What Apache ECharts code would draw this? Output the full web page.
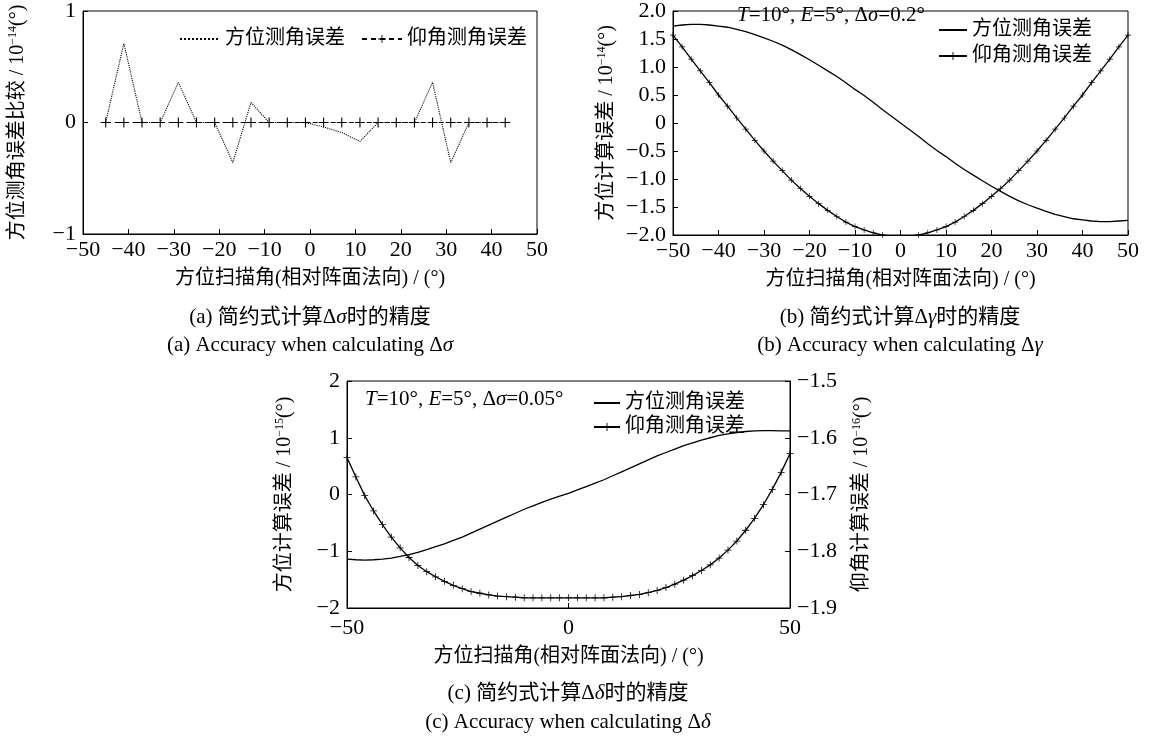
<!DOCTYPE html>
<html><head><meta charset="utf-8">
<script src="https://cdn.jsdelivr.net/npm/echarts@6/dist/echarts.min.js"></script>
<style>html,body{margin:0;padding:0;background:#fff}#c{width:1154px;height:743px}</style>
</head><body><div id="c"></div><script>
// ---------- data ----------
const xA = [-45,-41,-37,-33,-29,-25,-21,-17,-13,-9,-5,-1,3,7,11,15,19,23,27,31,35,39,43];
const azA = [0,0.71,0,0,0.36,0,0,-0.36,0.18,0,0,0,-0.04,-0.09,-0.17,0,0,0,0.36,-0.36,0,0,0];
const elA = [0,0,0,0,0,0,0,0,0,0,0,0,0,0,0,0,0,0,0,0,0,0,0];

const xB = [-50,-48,-46,-44,-42,-40,-38,-36,-34,-32,-30,-28,-26,-24,-22,-20,-18,-16,-14,-12,-10,-8,-6,-4,-2,0,
            2,4,6,8,10,12,14,16,18,20,22,24,26,28,30,32,34,36,38,40,42,44,46,48,50];
const azB = [1.73,1.75,1.76,1.76,1.75,1.73,1.71,1.67,1.63,1.58,1.52,1.46,1.39,1.31,1.22,1.13,1.03,0.93,0.83,0.72,0.60,0.49,0.37,0.24,0.12,0,
             -0.12,-0.24,-0.37,-0.49,-0.60,-0.72,-0.83,-0.93,-1.03,-1.13,-1.22,-1.31,-1.39,-1.46,-1.52,-1.58,-1.63,-1.67,-1.71,-1.73,-1.75,-1.76,-1.76,-1.75,-1.74];
const elB = [1.57,1.36,1.14,0.93,0.72,0.50,0.30,0.09,-0.11,-0.31,-0.50,-0.68,-0.85,-1.02,-1.17,-1.31,-1.44,-1.56,-1.67,-1.77,-1.85,-1.91,-1.96,-2.00,-2.02,-2.03,
             -2.02,-2.00,-1.96,-1.91,-1.85,-1.77,-1.67,-1.56,-1.44,-1.31,-1.17,-1.02,-0.85,-0.68,-0.50,-0.31,-0.11,0.09,0.30,0.50,0.72,0.93,1.14,1.36,1.57];

const xC = [-50,-48,-46,-44,-42,-40,-38,-36,-34,-32,-30,-28,-26,-24,-22,-20,-18,-16,-14,-12,-10,-8,-6,-4,-2,0,
            2,4,6,8,10,12,14,16,18,20,22,24,26,28,30,32,34,36,38,40,42,44,46,48,50];
const azC = [-1.14,-1.15,-1.155,-1.15,-1.14,-1.12,-1.09,-1.06,-1.02,-0.97,-0.92,-0.87,-0.81,-0.75,-0.68,-0.61,-0.54,-0.47,-0.40,-0.33,-0.26,-0.20,-0.14,-0.08,-0.03,0.02,
             0.08,0.14,0.20,0.26,0.33,0.40,0.47,0.54,0.61,0.68,0.74,0.80,0.86,0.91,0.96,1.00,1.04,1.07,1.09,1.11,1.12,1.125,1.125,1.12,1.12];
const elC = [-1.635,-1.669,-1.702,-1.729,-1.753,-1.775,-1.794,-1.811,-1.825,-1.836,-1.845,-1.853,-1.860,-1.866,-1.871,-1.874,-1.877,-1.879,-1.880,-1.881,-1.882,-1.882,-1.882,-1.882,-1.882,-1.882,
             -1.882,-1.882,-1.882,-1.882,-1.881,-1.880,-1.878,-1.876,-1.873,-1.869,-1.864,-1.858,-1.851,-1.843,-1.834,-1.824,-1.812,-1.798,-1.782,-1.763,-1.742,-1.718,-1.691,-1.661,-1.628];

const legendNames = {aAz:'方位测角误差', aEl:'仰角测角误差', bAz:'方位测角误差', bEl:'仰角测角误差', cAz:'方位测角误差', cEl:'仰角测角误差'};
const xName = '方位扫描角(相对阵面法向) / (°)';

// ---------- styles ----------
const SERIF = '"Liberation Serif","Times New Roman","Noto Sans CJK SC",serif';
const TICK = 22, CJK = 20, CAP = 21;
const PLUS = 'path://M0,4.45H10V5.55H0Z M4.45,0H5.55V10H4.45Z';
const minus = s => String(s).replace('-', '\u2212');
const fmtInt = v => minus(Math.round(v));
const fmt1 = v => Math.abs(v) < 1e-9 ? '0' : minus(v.toFixed(1));
const pairs = (xs, ys) => xs.map((x, i) => [x, ys[i]]);
const rich = {
  sup: {fontSize: 12, fontFamily: SERIF, verticalAlign: 'top', lineHeight: 13, color: '#000'},
  i: {fontStyle: 'italic', fontSize: CAP, fontFamily: SERIF, color: '#000'}
};
function xAxis(gi, interval, gap, margin){
  return {type:'value', gridIndex:gi, min:-50, max:50, interval,
    name:xName, nameLocation:'middle', nameGap:gap,
    nameTextStyle:{fontSize:CJK, fontFamily:SERIF, color:'#000'},
    axisLine:{onZero:false, lineStyle:{color:'#000', width:1}}, axisTick:{inside:true, length:5, lineStyle:{color:'#000'}},
    axisLabel:{fontSize:TICK, fontFamily:SERIF, color:'#000', formatter:fmtInt, margin},
    splitLine:{show:false}};
}
function yAxis(gi, min, max, interval, name, fmt, pos, gap){
  return {type:'value', gridIndex:gi, min, max, interval, position:pos||'left',
    name, nameLocation:'middle', nameGap:gap, nameRotate:90,
    nameTextStyle:{fontSize:CJK, fontFamily:SERIF, color:'#000', lineHeight:22, rich},
    axisLine:{show:true, onZero:false, lineStyle:{color:'#000', width:1}}, axisTick:{inside:true, length:5, lineStyle:{color:'#000'}},
    axisLabel:{fontSize:TICK, fontFamily:SERIF, color:'#000', formatter:fmt, margin:7},
    splitLine:{show:false}};
}
const gridStyle = {show:true, borderColor:'#000', borderWidth:1, containLabel:false};
const legendText = {fontSize:CJK, fontFamily:SERIF, color:'#000'};
const noMark = {opacity:0};

const option = {
  animation:false,
  backgroundColor:'#fff',
  grid:[
    Object.assign({left:83, top:9, width:454, height:225}, gridStyle),
    Object.assign({left:673, top:8, width:455, height:227}, gridStyle),
    Object.assign({left:347, top:381, width:443, height:227}, gridStyle)
  ],
  xAxis:[xAxis(0,10,35,5), xAxis(1,10,35,5), xAxis(2,50,39,9)],
  yAxis:[
    yAxis(0,-1,1,1,'方位测角误差比较 / 10{sup|−14}(°)', fmtInt, 'left', 54),
    yAxis(1,-2,2,0.5,'方位计算误差 / 10{sup|−14}(°)', fmt1, 'left', 55),
    yAxis(2,-2,2,1,'方位计算误差 / 10{sup|−15}(°)', fmtInt, 'left', 51),
    yAxis(2,-1.9,-1.5,0.1,'仰角计算误差 / 10{sup|−16}(°)', fmt1, 'right', 61)
  ],
  legend:[
    {data:[{name:'aAz', itemStyle:noMark}, 'aEl'], left:174, top:24, orient:'horizontal', itemWidth:40, itemHeight:10, itemGap:16,
     formatter:n=>legendNames[n], textStyle:legendText, selectedMode:false},
    {data:[{name:'bAz', itemStyle:noMark}, 'bEl'], left:933, top:15, orient:'vertical', itemWidth:28, itemHeight:10, itemGap:6,
     formatter:n=>legendNames[n], textStyle:legendText, selectedMode:false},
    {data:[{name:'cAz', itemStyle:noMark}, 'cEl'], left:588, top:388, orient:'vertical', itemWidth:26, itemHeight:10, itemGap:4,
     formatter:n=>legendNames[n], textStyle:legendText, selectedMode:false}
  ],
  series:[
    {name:'aAz', type:'line', xAxisIndex:0, yAxisIndex:0, data:pairs(xA, azA), showSymbol:false, symbol:'none',
     lineStyle:{color:'#000', width:1.1, type:'dotted'}, itemStyle:{color:'#000'}},
    {name:'aEl', type:'line', xAxisIndex:0, yAxisIndex:0, data:pairs(xA, elA), symbol:PLUS, symbolSize:10,
     lineStyle:{color:'#000', width:1.1, type:[5,4]}, itemStyle:{color:'#000'}},
    {name:'bAz', type:'line', xAxisIndex:1, yAxisIndex:1, data:pairs(xB, azB), symbol:'none',
     lineStyle:{color:'#000', width:1.3}, itemStyle:{color:'#000'}},
    {name:'bEl', type:'line', xAxisIndex:1, yAxisIndex:1, data:pairs(xB, elB), symbol:PLUS, symbolSize:6,
     lineStyle:{color:'#000', width:1.3}, itemStyle:{color:'#000'}},
    {name:'cAz', type:'line', xAxisIndex:2, yAxisIndex:2, data:pairs(xC, azC), symbol:'none',
     lineStyle:{color:'#000', width:1.3}, itemStyle:{color:'#000'}},
    {name:'cEl', type:'line', xAxisIndex:2, yAxisIndex:3, data:pairs(xC, elC), symbol:PLUS, symbolSize:7,
     lineStyle:{color:'#000', width:1.3}, itemStyle:{color:'#000'}}
  ],
  graphic:[
    {type:'text', x:737, y:15, style:{text:'{i|T}=10°, {i|E}=5°, Δ{i|σ}=0.2°', fontSize:CAP, fontFamily:SERIF, fill:'#000', align:'left', verticalAlign:'middle', rich}},
    {type:'text', x:365, y:399, style:{text:'{i|T}=10°, {i|E}=5°, Δ{i|σ}=0.05°', fontSize:CAP, fontFamily:SERIF, fill:'#000', align:'left', verticalAlign:'middle', rich}},
    {type:'text', x:310, y:317, style:{text:'(a) 简约式计算Δ{i|σ}时的精度', fontSize:CAP, fontFamily:SERIF, fill:'#000', align:'center', verticalAlign:'middle', rich}},
    {type:'text', x:310, y:345, style:{text:'(a) Accuracy when calculating Δ{i|σ}', fontSize:CAP, fontFamily:SERIF, fill:'#000', align:'center', verticalAlign:'middle', rich}},
    {type:'text', x:900, y:317, style:{text:'(b) 简约式计算Δ{i|γ}时的精度', fontSize:CAP, fontFamily:SERIF, fill:'#000', align:'center', verticalAlign:'middle', rich}},
    {type:'text', x:900, y:345, style:{text:'(b) Accuracy when calculating Δ{i|γ}', fontSize:CAP, fontFamily:SERIF, fill:'#000', align:'center', verticalAlign:'middle', rich}},
    {type:'text', x:568, y:693, style:{text:'(c) 简约式计算Δ{i|δ}时的精度', fontSize:CAP, fontFamily:SERIF, fill:'#000', align:'center', verticalAlign:'middle', rich}},
    {type:'text', x:568, y:722, style:{text:'(c) Accuracy when calculating Δ{i|δ}', fontSize:CAP, fontFamily:SERIF, fill:'#000', align:'center', verticalAlign:'middle', rich}}
  ]
};
const chart = echarts.init(document.getElementById('c'), null, {renderer:'canvas'});
chart.setOption(option);
</script></body></html>
